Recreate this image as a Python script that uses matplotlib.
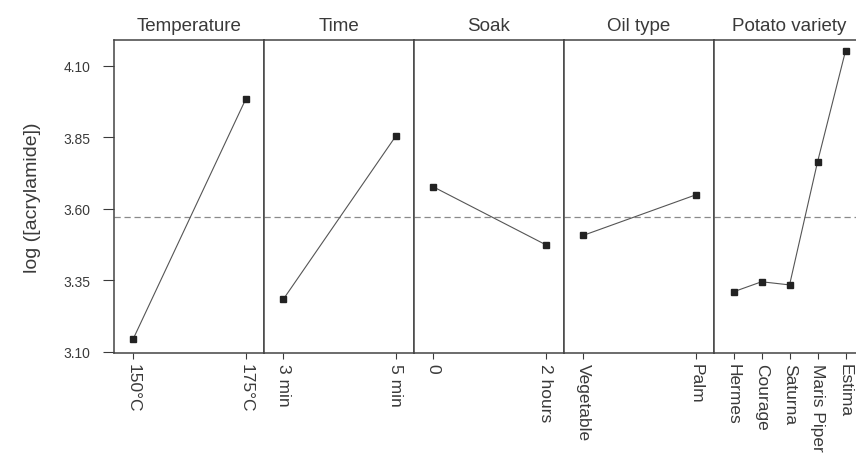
import matplotlib
matplotlib.use('Agg')
import matplotlib.pyplot as plt

plt.rcParams['font.family'] = ['Liberation Sans', 'DejaVu Sans']

# main effects on log([acrylamide])
factors = ['Temperature', 'Time', 'Soak', 'Oil type', 'Potato variety']
levels = [
    ['150°C', '175°C'],
    ['3 min', '5 min'],
    ['0', '2 hours'],
    ['Vegetable', 'Palm'],
    ['Hermes', 'Courage', 'Saturna', 'Maris Piper', 'Estima'],
]
means = [
    [3.145, 3.985],
    [3.283, 3.855],
    [3.677, 3.474],
    [3.507, 3.649],
    [3.310, 3.345, 3.334, 3.764, 4.152],
]
grand_mean = 3.570
y_ticks = [3.10, 3.35, 3.60, 3.85, 4.10]

ink = '#3a3a3a'
W, H = 856, 464
fig = plt.figure(figsize=(W / 100, H / 100), dpi=100)

# panel geometry in pixels; the last panel runs off the right edge as in the scan
left_px, top_px, bottom_px, panel_px = 114, 41, 354, 150
axes = []
for i, (name, labs, vals) in enumerate(zip(factors, levels, means)):
    x0 = (left_px + i * panel_px) / W
    ax = fig.add_axes([x0, 1 - bottom_px / H, panel_px / W, (bottom_px - top_px) / H],
                      sharey=axes[0] if axes else None)
    axes.append(ax)
    xs = list(range(len(labs)))
    ax.plot(xs, vals, color='#555555', lw=0.8, marker='s', ms=4.5,
            mfc='#222222', mec='#222222', zorder=3)
    ax.axhline(grand_mean, color='#8a8a8a', lw=0.9, ls=(0, (5, 3)), zorder=1)
    if len(labs) == 2:
        ax.set_xlim(-0.17, 1.16)
    else:
        ax.set_xlim(-0.7, 4.66)
    ax.set_xticks(xs)
    ax.set_xticklabels(labs, rotation=270, fontsize=12.5, color=ink)
    ax.set_title(name, fontsize=13.5, color=ink, pad=7)
    for s in ax.spines.values():
        s.set_color('#444444')
        s.set_linewidth(1.1)
    ax.tick_params(axis='x', direction='out', length=4, width=0.8, colors=ink, pad=3)
    if i == 0:
        ax.tick_params(axis='y', direction='out', length=8, width=0.8, colors=ink,
                       labelsize=10, pad=9)
    else:
        ax.tick_params(axis='y', left=False, labelleft=False)

axes[0].set_ylim(3.096, 4.19)
axes[0].set_yticks(y_ticks)
axes[0].set_yticklabels(['%.2f' % v for v in y_ticks])
axes[0].set_ylabel('log ([acrylamide])', fontsize=14, color=ink, labelpad=16)

fig.savefig('out.png', dpi=100, facecolor='white')
